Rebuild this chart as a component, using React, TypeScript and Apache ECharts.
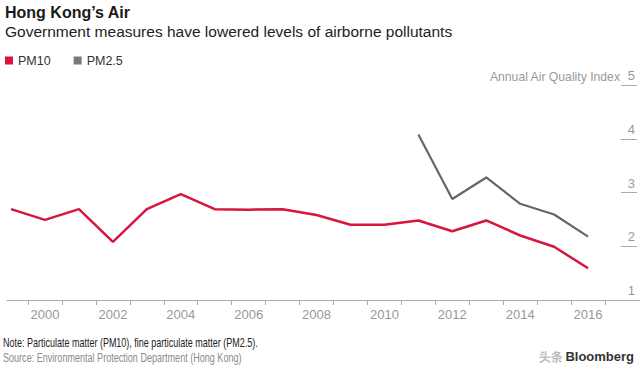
import React, { useEffect, useRef } from "react";
import * as echarts from "echarts";

const years = [1999, 2000, 2001, 2002, 2003, 2004, 2005, 2006, 2007, 2008, 2009, 2010, 2011, 2012, 2013, 2014, 2015, 2016];
const pm10 = [2.69, 2.49, 2.69, 2.08, 2.69, 2.97, 2.69, 2.68, 2.69, 2.58, 2.4, 2.4, 2.48, 2.28, 2.48, 2.2, 1.99, 1.59];
const pm25Years = [2011, 2012, 2013, 2014, 2015, 2016];
const pm25 = [4.08, 2.88, 3.28, 2.79, 2.59, 2.18];
const xTickValues = [1999.5, 2000.5, 2001.5, 2002.5, 2003.5, 2004.5, 2005.5, 2006.5, 2007.5, 2008.5, 2009.5, 2010.5, 2011.5, 2012.5, 2013.5, 2014.5, 2015.5, 2016.5];
const xLabelValues = [2000, 2002, 2004, 2006, 2008, 2010, 2012, 2014, 2016];
const yTickValues = [2, 3, 4, 5];
const yLabelValues = [1, 2, 3, 4, 5];

const FONT = "'Liberation Sans', Arial, sans-serif";

export default function App() {
  const ref = useRef<HTMLDivElement>(null);
  useEffect(() => {
    if (!ref.current) return;
    const chart = echarts.init(ref.current, null, { renderer: "svg" });
    chart.setOption({
      animation: false,
      backgroundColor: "#ffffff",
      textStyle: { fontFamily: FONT },
      title: [
        {
          text: "Hong Kong’s Air",
          left: 5,
          top: 4,
          padding: 0,
          textStyle: { fontSize: 16, fontWeight: "bold", color: "#1a1a1a", fontFamily: FONT },
        },
        {
          text: "Government measures have lowered levels of airborne pollutants",
          left: 5,
          top: 23,
          padding: 0,
          textStyle: { fontSize: 15.5, fontWeight: "normal", color: "#222222", fontFamily: FONT },
        },
        {
          text: "{a|头条 }{b|Bloomberg}",
          right: 6,
          top: 350,
          padding: 0,
          textStyle: {
            rich: {
              a: { fontSize: 12, color: "#bbbbbb", fontFamily: "'Noto Sans CJK SC', sans-serif" },
              b: { fontSize: 13, color: "#333333", fontWeight: "bold", fontFamily: FONT },
            },
          },
        },
      ],
      graphic: [
        {
          type: "text",
          x: 3,
          y: 342.5,
          scaleX: 0.72,
          style: {
            text: "Note: Particulate matter (PM10), fine particulate matter (PM2.5).",
            fontSize: 12.5,
            fontFamily: FONT,
            fill: "#222222",
            verticalAlign: "middle",
          },
        },
        {
          type: "text",
          x: 3,
          y: 357.5,
          scaleX: 0.725,
          style: {
            text: "Source: Environmental Protection Department (Hong Kong)",
            fontSize: 12.5,
            fontFamily: FONT,
            fill: "#8a8a8a",
            verticalAlign: "middle",
          },
        },
      ],
      legend: {
        left: 5,
        top: 54,
        padding: 0,
        icon: "rect",
        itemWidth: 8,
        itemHeight: 8,
        itemGap: 23,
        textStyle: { fontSize: 12.5, color: "#333333", fontFamily: FONT },
        data: ["PM10", "PM2.5"],
      },
      grid: { left: 7, right: 0, top: 85, bottom: 71 },
      xAxis: {
        type: "value",
        min: 1998.88,
        max: 2017.53,
        axisLine: { show: true, lineStyle: { color: "#aaaaaa", width: 1 } },
        axisTick: { show: true, length: 5, customValues: xTickValues, lineStyle: { color: "#aaaaaa" } },
        axisLabel: {
          customValues: xLabelValues,
          formatter: (v: number) => String(v),
          color: "#999999",
          fontSize: 13,
          margin: 8,
          fontFamily: FONT,
        },
        splitLine: { show: false },
      },
      yAxis: {
        type: "value",
        position: "right",
        offset: -3,
        min: 1,
        max: 5,
        interval: 1,
        name: "Annual Air Quality Index",
        nameLocation: "end",
        nameGap: -1,
        nameTextStyle: { color: "#999999", fontSize: 12.2, align: "right", verticalAlign: "bottom", padding: [0, 17, 3, 0], fontFamily: FONT },
        axisLine: { show: false },
        axisTick: { show: true, inside: true, length: 16, customValues: yTickValues, lineStyle: { color: "#aaaaaa" } },
        axisLabel: {
          inside: true,
          customValues: yLabelValues,
          margin: 2,
          color: "#999999",
          fontSize: 13,
          align: "right",
          verticalAlign: "bottom",
          padding: [0, 0, 3, 0],
          fontFamily: FONT,
        },
        splitLine: { show: false },
      },
      series: [
        {
          name: "PM10",
          type: "line",
          data: years.map((y, i) => [y, pm10[i]]),
          showSymbol: false,
          symbol: "none",
          itemStyle: { color: "#d6163d" },
          lineStyle: { color: "#d6163d", width: 2.5 },
        },
        {
          name: "PM2.5",
          type: "line",
          data: pm25Years.map((y, i) => [y, pm25[i]]),
          showSymbol: false,
          symbol: "none",
          itemStyle: { color: "#7a7a7a" },
          lineStyle: { color: "#666666", width: 2.2 },
        },
      ],
    });
    return () => chart.dispose();
  }, []);
  return (
    <div
      ref={ref}
      style={{ position: "fixed", left: 0, top: 0, width: 640, height: 371, background: "#fff" }}
    />
  );
}
